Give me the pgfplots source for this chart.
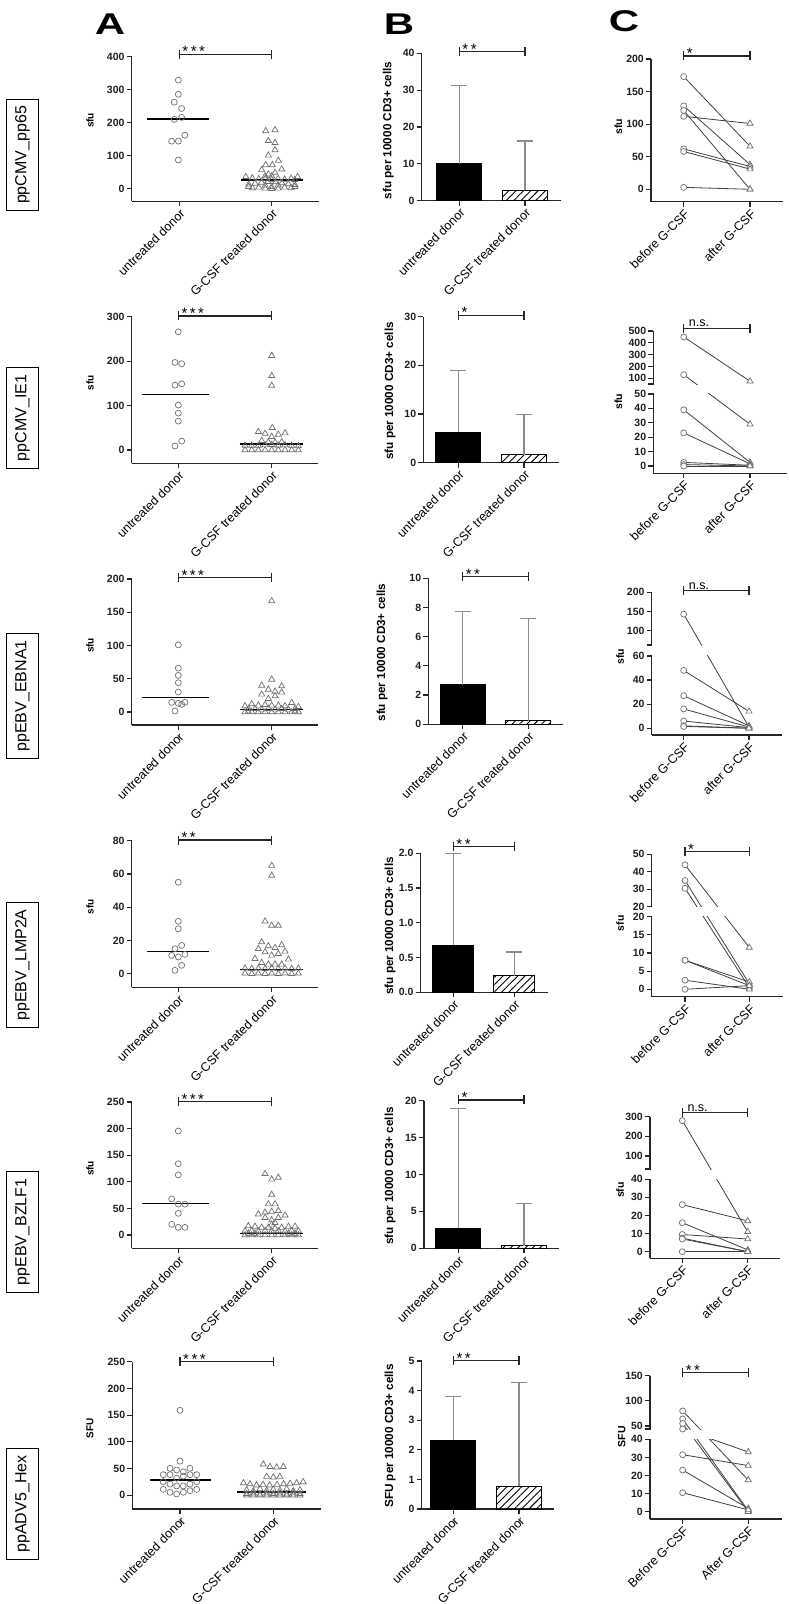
\documentclass[border=0pt]{standalone}
\usepackage{pgfplots}
\usepackage{pgfplotstable}
\pgfplotsset{compat=1.18}
\usepackage{fontspec}
\setmainfont{Liberation Sans}
\usetikzlibrary{patterns.meta}
\definecolor{axc}{HTML}{262626}
\definecolor{mk}{HTML}{6E6E6E}
\definecolor{eb}{HTML}{8C8C8C}
\definecolor{ln}{HTML}{404040}
\pgfplotsset{
  gp/.style={
    scale only axis, anchor=south west, clip=false,
    axis x line=bottom, axis y line=left,
    axis line style={-, line width=1.4pt, draw=axc},
    tick style={line width=1.2pt, axc},
    tick align=outside, major tick length=5pt,
    xtick={0,1}, scaled y ticks=false,
    /pgf/number format/assume math mode=true,
    yticklabel style={font=\fontsize{10.5}{11}\selectfont\bfseries, text=black!88, inner sep=2pt},
    xticklabel style={font=\fontsize{12.5}{13}\selectfont, rotate=45, anchor=north east, inner sep=1pt},
  },
  scU/.style={only marks, mark=o, mark size=3pt, mark options={draw=mk, line width=0.7pt}},
  scG/.style={only marks, mark=triangle, mark size=3.5pt, mark options={draw=mk, line width=0.7pt}},
  med/.style={black, line width=1.5pt, mark=none},
  sig/.style={axc, line width=1.3pt, mark=|, mark size=4.5pt, mark options={line width=1.3pt}},
  cl/.style={ln, line width=0.8pt, mark=none},
  cO/.style={only marks, mark=*, mark size=3pt, mark options={draw=mk, fill=white, line width=0.7pt}},
  cT/.style={only marks, mark=triangle*, mark size=3.5pt, mark options={draw=mk, fill=white, line width=0.7pt}},
  errs/.style={error bars/y dir=plus, error bars/y explicit,
    error bars/error bar style={eb, line width=1.1pt},
    error bars/error mark options={rotate=90, eb, line width=1.1pt, mark size=8pt}},
  bk/.style={ybar, bar shift=0pt, bar width=45pt, fill=black, draw=black, line width=1pt, errs},
  ht/.style={ybar, bar shift=0pt, bar width=45pt, draw=black, line width=1pt,
    pattern={Lines[angle=45,distance=5.2pt,line width=0.9pt]}, pattern color=black, errs},
}
\tikzset{
  st/.style={anchor=base west, font=\fontsize{15}{15}\selectfont, inner sep=0pt, xshift=3pt, yshift=-2.5pt},
  ns/.style={anchor=base west, font=\fontsize{12.5}{12}\selectfont, inner sep=0pt, xshift=5pt, yshift=1.5pt},
  rl/.style={draw=black, line width=0.9pt, rotate=90, font=\fontsize{16}{16}\selectfont, inner xsep=7pt, inner ysep=9pt},
  yl/.style={rotate=90, font=\fontsize{10}{10}\selectfont\bfseries, inner sep=0pt},
  ylb/.style={rotate=90, font=\fontsize{11.7}{12}\selectfont\bfseries, inner sep=0pt},
  ylc/.style={rotate=90, font=\fontsize{10.5}{10}\selectfont\bfseries, inner sep=0pt},
}
\newcommand{\pr}[3][]{\addplot[cl,#1] coordinates {(0,#2)(1,#3)};}
\newcommand{\sA}{*}
\newcommand{\sB}{*\kern2.5pt*}
\newcommand{\sC}{*\kern2.5pt*\kern2.5pt*}
\newcommand{\BIG}[1]{\scalebox{1.4}[1]{\fontsize{30}{30}\selectfont\bfseries #1}}
\begin{document}
\begin{tikzpicture}[x=1pt,y=1pt]
\useasboundingbox (0,0) rectangle (789,1604);
% column letters
\node[anchor=base, inner sep=0pt] at (110,1569) {\BIG{A}};
\node[anchor=base, inner sep=0pt] at (399,1569) {\BIG{B}};
\node[anchor=base, inner sep=0pt] at (624,1572.5) {\BIG{C}};
% row labels
\node[rl] at (22.5,1449) {ppCMV\_pp65};
\node[rl] at (22.5,1186) {ppCMV\_IE1};
\node[rl] at (22.5,908) {ppEBV\_EBNA1};
\node[rl] at (22.5,639) {ppEBV\_LMP2A};
\node[rl] at (22.5,372) {ppEBV\_BZLF1};
\node[rl] at (22.5,100) {ppADV5\_Hex};
% y labels
\node[yl] at (90,1483.5) {sfu};
\node[yl] at (90,1221) {sfu};
\node[yl] at (90,958.5) {sfu};
\node[yl] at (90,697) {sfu};
\node[yl] at (90,435.5) {sfu};
\node[yl] at (90,175.5) {SFU};
\node[ylb] at (388.3,1473.5) {sfu per 10000 CD3+ cells};
\node[ylb] at (390,1213) {sfu per 10000 CD3+ cells};
\node[ylb] at (382,951.3) {sfu per 10000 CD3+ cells};
\node[ylb] at (390,678) {sfu per 10000 CD3+ cells};
\node[ylb] at (390,428) {sfu per 10000 CD3+ cells};
\node[ylb] at (390,168) {SFU per 10000 CD3+ cells};
\node[ylc] at (618.3,1477.3) {sfu};
\node[ylc] at (618.3,1202.3) {sfu};
\node[ylc] at (620,947.3) {sfu};
\node[ylc] at (620,680.7) {sfu};
\node[ylc] at (620,414) {sfu};
\node[ylc] at (621.7,167.3) {SFU};

%================ ROW 1 ================
\begin{axis}[gp, at={(131.7pt,1402.7pt)}, width=187.6pt, height=144.6pt,
  xmin=-0.515, xmax=1.515, ymin=-38.2, ymax=400, ytick={0,100,200,300,400},
  xticklabels={untreated donor, G-CSF treated donor}]
\addplot[scU] coordinates {(-0.01,329)(-0.01,286)(-0.054,262)(0.025,243)(0.025,216)(-0.054,210)(0.06,162)(-0.083,144)(-0.01,144)(-0.01,87)};
\addplot[scG] coordinates {(0.935,175)(1.036,178)(0.964,145)(1.036,139)(1.036,117)(0.964,101)(1.072,85)(0.935,72)(1.007,72)(0.892,57)(1.108,59)(0.964,44)(1.036,49)(0.928,38)(1,38)
(0.72,36)(0.79,32)(0.86,30)(0.93,31)(1,28)(1.07,30)(1.14,28)(1.21,31)(1.28,36)(1.25,27)
(0.75,13)(0.82,16)(0.89,19)(0.96,21)(1.04,20)(1.11,17)(1.18,14)(1.25,12)(0.93,10)(1.07,10)
(0.79,2)(0.86,4)(0.93,1)(1,0)(1.07,1)(1.14,4)(1.21,2)(1.25,6)(0.75,6)(1,6)};
\addplot[med] coordinates {(-0.353,211)(0.325,211)};
\addplot[med] coordinates {(0.665,26)(1.342,26)};
\addplot[sig] coordinates {(0,407)(1,407)};
\node[st] at (axis cs:0,407) {\sC};
\end{axis}

\begin{axis}[gp, at={(421.7pt,1403.3pt)}, width=139pt, height=147.4pt,
  xmin=-0.572, xmax=1.544, ymin=0, ymax=40, ytick={0,10,20,30,40},
  xticklabels={untreated donor, G-CSF treated donor}]
\addplot[bk] coordinates {(0,10) +- (0,21.3)};
\addplot[ht] coordinates {(1,2.8) +- (0,13.4)};
\addplot[sig] coordinates {(0,40.4)(1,40.4)};
\node[st] at (axis cs:0,40.4) {\sB};
\end{axis}

\begin{axis}[gp, at={(651pt,1402.3pt)}, width=132.3pt, height=142.7pt,
  xmin=-0.493, xmax=1.502, ymin=-19, ymax=200, ytick={0,50,100,150,200},
  xticklabels={before G-CSF, after G-CSF}]
\pr{173}{66}\pr{128}{38}\pr{121}{0}\pr{112}{101}\pr{62}{35}\pr{58}{31}\pr{3}{0}
\addplot[cO] coordinates {(0,173)(0,128)(0,121)(0,112)(0,62)(0,58)(0,3)};
\addplot[cT] coordinates {(1,66)(1,38)(1,0)(1,101)(1,35)(1,31)(1,0)};
\addplot[sig] coordinates {(0,204.6)(1,204.6)};
\node[st] at (axis cs:0,204.6) {\sA};
\end{axis}

%================ ROW 2 ================
\begin{axis}[gp, at={(131.7pt,1140.7pt)}, width=186.6pt, height=146.6pt,
  xmin=-0.499, xmax=1.499, ymin=-29.9, ymax=300, ytick={0,100,200,300},
  xticklabels={untreated donor, G-CSF treated donor}]
\addplot[scU] coordinates {(0,266)(-0.036,197)(0.036,194)(-0.036,146)(0.036,149)(0,101)(0,83)(0,65)(0.036,20)(-0.036,9)};
\addplot[scG] coordinates {(1,212)(1,167)(1,145)(1.007,50)(0.857,41)(0.929,37)(1,30)(1.071,35)(1.143,38)(0.893,21)(0.964,18)(1.036,17)(1.107,18)
(0.714,10)(0.786,10)(0.857,10)(0.929,11)(1,12)(1.071,10)(1.143,11)(1.214,10)(1.286,9)
(0.714,0)(0.786,0)(0.857,0)(0.929,0)(1,0)(1.071,0)(1.143,0)(1.214,0)(1.286,0)};
\addplot[med] coordinates {(-0.39,125)(0.33,125)};
\addplot[med] coordinates {(0.66,13)(1.34,13)};
\addplot[sig] coordinates {(0,301.6)(1,301.6)};
\node[st] at (axis cs:0,301.6) {\sC};
\end{axis}

\begin{axis}[gp, at={(423.3pt,1141.3pt)}, width=136pt, height=146pt,
  xmin=-0.533, xmax=1.537, ymin=0, ymax=30, ytick={0,10,20,30},
  xticklabels={untreated donor, G-CSF treated donor}]
\addplot[bk] coordinates {(0,6.3) +- (0,12.7)};
\addplot[ht] coordinates {(1,1.6) +- (0,8.3)};
\addplot[sig] coordinates {(0,30.3)(1,30.3)};
\node[st] at (axis cs:0,30.3) {\sA};
\end{axis}

\begin{axis}[gp, at={(653.3pt,1130.7pt)}, width=133.7pt, height=142.3pt,
  xmin=-0.459, xmax=1.558, ymin=-5.07, ymax=93.74,
  ytick={0,10,20,30,40,50,60.9,69.11,77.32,85.53,93.74},
  yticklabels={0,10,20,30,40,50,100,200,300,400,500},
  extra y ticks={56.9}, extra y tick labels={},
  xticklabels={before G-CSF, after G-CSF},
  tr/.style={y filter/.expression={y<=50 ? y : 60.9+(y-100)*0.0821}}]
\pr[tr]{450}{75}\pr[tr]{130}{29}\pr[tr]{39}{2.5}\pr[tr]{23}{1.5}\pr[tr]{2.5}{0.5}\pr[tr]{1}{0}\pr[tr]{0}{0}
\fill[white] (axis cs:-0.52,50.5) rectangle (axis cs:1.558,56.4);
\addplot[cO,tr] coordinates {(0,450)(0,130)(0,39)(0,23)(0,2.5)(0,1)(0,0)};
\addplot[cT,tr] coordinates {(1,75)(1,29)(1,2.5)(1,1.5)(1,0.5)(1,0)(1,0)};
\addplot[sig] coordinates {(0,95.6)(1,95.6)};
\node[ns] at (axis cs:0,95.6) {n.s.};
\end{axis}

%================ ROW 3 ================
\begin{axis}[gp, at={(131.7pt,879pt)}, width=186.6pt, height=146pt,
  xmin=-0.499, xmax=1.499, ymin=-19.5, ymax=200, ytick={0,50,100,150,200},
  xticklabels={untreated donor, G-CSF treated donor}]
\addplot[scU] coordinates {(0,101)(0,66)(0,55)(0,44)(0,30)(-0.071,14.5)(0,13)(0.036,11.5)(0.071,14.5)(-0.036,1.5)};
\addplot[scG] coordinates {(1,167)(1,49)(0.893,40)(1.107,39)(0.964,34)(1.036,31)(0.893,26.5)(1.107,29.5)(1.036,24)(0.964,20)
(0.714,9)(0.786,12)(0.857,10)(0.929,11)(1,10)(1.071,10)(1.143,9)(1.214,14)(1.286,8)
(0.75,5)(0.821,5)(0.893,4)(0.964,5)(1.036,4)(1.107,5)(1.179,4)(1.25,5)
(0.714,0)(0.786,0)(0.857,0)(0.929,0)(1,0)(1.071,0)(1.143,0)(1.214,0)(1.286,0)(0.75,1)(1.25,1)};
\addplot[med] coordinates {(-0.39,22)(0.33,22)};
\addplot[med] coordinates {(0.66,4)(1.34,4)};
\addplot[sig] coordinates {(0,202)(1,202)};
\node[st] at (axis cs:0,202) {\sC};
\end{axis}

\begin{axis}[gp, at={(428.3pt,879.7pt)}, width=135pt, height=146pt,
  xmin=-0.524, xmax=1.534, ymin=0, ymax=10, ytick={0,2,4,6,8,10},
  xticklabels={untreated donor, G-CSF treated donor}]
\addplot[bk] coordinates {(0,2.7) +- (0,5.05)};
\addplot[ht] coordinates {(1,0.25) +- (0,7.0)};
\addplot[sig] coordinates {(0,10.1)(1,10.1)};
\node[st] at (axis cs:0,10.1) {\sB};
\end{axis}

\begin{axis}[gp, at={(651.7pt,869pt)}, width=130pt, height=142.7pt,
  xmin=-0.49, xmax=1.501, ymin=-5.6, ymax=112.87,
  ytick={0,20,40,60,81.0,96.94,112.87},
  yticklabels={0,20,40,60,100,150,200},
  extra y ticks={69.1}, extra y tick labels={},
  xticklabels={before G-CSF, after G-CSF},
  tr/.style={y filter/.expression={y<=60 ? y : 81.0+(y-100)*0.3187}}]
\pr[tr]{143}{1}\pr[tr]{48}{14}\pr[tr]{27}{2}\pr[tr]{16}{1}\pr[tr]{6}{0.5}\pr[tr]{2}{0}\pr[tr]{1.5}{0}
\fill[white] (axis cs:-0.55,60.6) rectangle (axis cs:1.501,68.5);
\addplot[cO,tr] coordinates {(0,143)(0,48)(0,27)(0,16)(0,6)(0,2)(0,1.5)};
\addplot[cT,tr] coordinates {(1,1)(1,14)(1,2)(1,1)(1,0.5)(1,0)(1,0)};
\addplot[sig] coordinates {(0,114.2)(1,114.2)};
\node[ns] at (axis cs:0,114.2) {n.s.};
\end{axis}

%================ ROW 4 ================
\begin{axis}[gp, at={(131.7pt,616.7pt)}, width=186.6pt, height=146.6pt,
  xmin=-0.499, xmax=1.499, ymin=-8.2, ymax=80, ytick={0,20,40,60,80},
  xticklabels={untreated donor, G-CSF treated donor}]
\addplot[scU] coordinates {(0,55)(0,31.5)(0,27)(-0.036,15)(0.036,17)(-0.071,11)(0,10)(0.071,11.6)(0.036,5)(-0.036,2)};
\addplot[scG] coordinates {(1,65)(1,59)(0.929,31.5)(1,29)(1.071,29)(0.893,19)(0.964,16.6)(1.036,15.6)(1.107,17.2)(0.857,15)(0.929,13)(1,11)(1.071,12)(1.143,13.4)(0.821,9)(1.179,8.6)(0.893,6.6)(0.964,5.6)(1.036,5.6)(1.107,5.6)
(0.714,3.2)(0.786,3)(0.857,3.2)(0.929,3)(1,3.2)(1.071,3)(1.143,3.2)(1.214,3)(1.286,3.2)
(0.714,0.2)(0.786,0)(0.857,0.2)(0.929,0)(1,0.2)(1.071,0)(1.143,0.2)(1.214,0)(1.286,0.2)};
\addplot[med] coordinates {(-0.34,13.3)(0.33,13.3)};
\addplot[med] coordinates {(0.66,2.5)(1.34,2.5)};
\addplot[sig] coordinates {(0,80.4)(1,80.4)};
\node[st] at (axis cs:0,80.4) {\sB};
\end{axis}

\begin{axis}[gp, at={(420.7pt,611.7pt)}, width=127.6pt, height=139pt,
  xmin=-0.534, xmax=1.558, ymin=0, ymax=2, ytick={0,0.5,1,1.5,2},
  yticklabels={0.0,0.5,1.0,1.5,2.0},
  xticklabels={untreated donor, G-CSF treated donor}]
\addplot[bk, bar width=41pt] coordinates {(0,0.68) +- (0,1.32)};
\addplot[ht, bar width=41pt] coordinates {(1,0.235) +- (0,0.345)};
\addplot[sig] coordinates {(0,2.095)(1,2.095)};
\node[st] at (axis cs:0,2.095) {\sB};
\end{axis}

\begin{axis}[gp, at={(651.7pt,607.3pt)}, width=131pt, height=142.4pt,
  xmin=-0.518, xmax=1.519, ymin=-2.04, ymax=37.19,
  ytick={0,5,10,15,20,22.755,27.567,32.38,37.19},
  yticklabels={0,5,10,15,20,20,30,40,50},
  xticklabels={before G-CSF, after G-CSF},
  tr/.style={y filter/.expression={y<=20 ? y : 22.755+(y-20)*0.4812}}]
\pr[tr]{44}{11.5}\pr[tr]{35}{1.5}\pr[tr]{30.5}{0.5}\pr[tr]{8}{2}\pr[tr]{8}{1}\pr[tr]{2.5}{0}\pr[tr]{0}{1}
\fill[white] (axis cs:-0.58,20.2) rectangle (axis cs:1.519,22.55);
\addplot[cO,tr] coordinates {(0,44)(0,35)(0,30.5)(0,8)(0,8)(0,2.5)(0,0)};
\addplot[cT,tr] coordinates {(1,11.5)(1,1.5)(1,0.5)(1,2)(1,1)(1,0)(1,1)};
\addplot[sig] coordinates {(0,37.9)(1,37.9)};
\node[st] at (axis cs:0,37.9) {\sA};
\end{axis}

%================ ROW 5 ================
\begin{axis}[gp, at={(131.7pt,355.7pt)}, width=186.6pt, height=146.3pt,
  xmin=-0.499, xmax=1.499, ymin=-25, ymax=250, ytick={0,50,100,150,200,250},
  xticklabels={untreated donor, G-CSF treated donor}]
\addplot[scU] coordinates {(0,195.5)(0,134)(0,113)(-0.071,67.7)(0,58)(0.071,58)(0,40.7)(-0.071,20)(0,14.4)(0.071,14.4)};
\addplot[scG] coordinates {(0.929,115)(1,104.6)(1.071,108)(1,76)(0.964,58)(1.036,58)(0.857,39)(0.929,42.6)(1,44)(1.071,45.7)(1.143,37)(0.929,32.6)(1,28)(1.071,32.6)(1,20)(1.036,23)
(0.75,17)(0.821,16)(0.893,14)(0.964,14)(1.036,12)(1.107,14)(1.179,16)(1.25,16)
(0.714,7.5)(0.786,8)(0.857,7)(0.929,8)(1,7.5)(1.071,8)(1.143,7)(1.214,8)(1.286,7.5)
(0.714,0)(0.786,0)(0.857,0)(0.929,0)(1,0)(1.071,0)(1.143,0)(1.214,0)(1.286,0)
(0.75,3)(0.821,3)(1.179,3)(1.25,3)};
\addplot[med] coordinates {(-0.39,59)(0.33,59)};
\addplot[med] coordinates {(0.66,3)(1.34,3)};
\addplot[sig] coordinates {(0,250.6)(1,250.6)};
\node[st] at (axis cs:0,250.6) {\sC};
\end{axis}

\begin{axis}[gp, at={(424pt,355.7pt)}, width=135.3pt, height=147.6pt,
  xmin=-0.522, xmax=1.537, ymin=0, ymax=20, ytick={0,5,10,15,20},
  xticklabels={untreated donor, G-CSF treated donor}]
\addplot[bk] coordinates {(0,2.7) +- (0,16.2)};
\addplot[ht] coordinates {(1,0.35) +- (0,5.75)};
\addplot[sig] coordinates {(0,20.1)(1,20.1)};
\node[st] at (axis cs:0,20.1) {\sA};
\end{axis}

\begin{axis}[gp, at={(650pt,345.7pt)}, width=130pt, height=141.6pt,
  xmin=-0.494, xmax=1.494, ymin=-3.65, ymax=74.58,
  ytick={0,10,20,30,40,52.87,63.73,74.58},
  yticklabels={0,10,20,30,40,100,200,300},
  extra y ticks={45.7}, extra y tick labels={},
  xticklabels={before G-CSF, after G-CSF},
  tr/.style={y filter/.expression={y<=40 ? y : 52.87+(y-100)*0.10856}}]
\pr[tr]{280}{11}\pr[tr]{26}{17}\pr[tr]{16}{1}\pr[tr]{9.5}{7}\pr[tr]{7.5}{0}\pr[tr]{7}{0}\pr[tr]{0}{0}
\fill[white] (axis cs:-0.55,40.4) rectangle (axis cs:1.494,45.3);
\addplot[cO,tr] coordinates {(0,280)(0,26)(0,16)(0,9.5)(0,7.5)(0,7)(0,0)};
\addplot[cT,tr] coordinates {(1,11)(1,17)(1,1)(1,7)(1,0)(1,0)(1,0)};
\addplot[sig] coordinates {(0,76.8)(1,76.8)};
\node[ns] at (axis cs:0,76.8) {n.s.};
\end{axis}

%================ ROW 6 ================
\begin{axis}[gp, at={(132.3pt,95pt)}, width=188.7pt, height=147.3pt,
  xmin=-0.511, xmax=1.511, ymin=-25.6, ymax=250, ytick={0,50,100,150,200,250},
  xticklabels={untreated donor, G-CSF treated donor}]
\addplot[scU] coordinates {(0,159)(0,64)(-0.107,50.5)(-0.036,47.4)(0.036,44)(0.107,50.5)(-0.179,38.6)(-0.107,38.6)(0.036,36)(0.107,38.6)(0.179,38.6)(-0.036,32)(-0.179,25.6)(-0.107,21)(-0.036,17.5)(0.036,17.5)(0.107,21)(0.179,25.6)(-0.179,11)(-0.107,5.6)(-0.036,2.5)(0.036,5.6)(0.107,8.7)(0.179,11)};
\addplot[scG] coordinates {(0.893,58)(0.964,53.6)(1.036,52.4)(1.107,53.6)(0.929,35)(1,33.7)(1.071,35)
(0.68,23)(0.75,21)(0.82,19)(0.89,20)(0.96,19)(1.04,20)(1.11,21)(1.18,22)(1.25,23)(1.32,25)
(0.714,10)(0.786,8)(0.857,12)(0.929,9)(1,11)(1.071,9)(1.143,12)(1.214,8)(1.286,10)
(0.714,3)(0.786,4)(0.857,2)(0.929,4)(1,3)(1.071,4)(1.143,2)(1.214,4)(1.286,3)
(0.714,0)(0.786,0)(0.857,0)(0.929,0)(1,0)(1.071,0)(1.143,0)(1.214,0)(1.286,0)};
\addplot[med] coordinates {(-0.32,29)(0.33,29)};
\addplot[med] coordinates {(0.61,6)(1.35,6)};
\addplot[sig] coordinates {(0,250)(1,250)};
\node[st] at (axis cs:0,250) {\sC};
\end{axis}

\begin{axis}[gp, at={(421.7pt,95pt)}, width=132.3pt, height=148pt,
  xmin=-0.481, xmax=1.533, ymin=0, ymax=5, ytick={0,1,2,3,4,5},
  xticklabels={untreated donor, G-CSF treated donor}]
\addplot[bk] coordinates {(0,2.32) +- (0,1.47)};
\addplot[ht] coordinates {(1,0.77) +- (0,3.51)};
\addplot[sig] coordinates {(0,5.01)(1,5.01)};
\node[st] at (axis cs:0,5.01) {\sB};
\end{axis}

\begin{axis}[gp, at={(650pt,85pt)}, width=131.7pt, height=143.3pt,
  xmin=-0.498, xmax=1.51, ymin=-4.03, ymax=75.14,
  ytick={0,10,20,30,40,47.35,61.25,75.14},
  yticklabels={0,10,20,30,40,50,100,150},
  extra y ticks={45.7}, extra y tick labels={},
  xticklabels={Before G-CSF, After G-CSF},
  tr/.style={y filter/.expression={y<=40 ? y : 47.35+(y-50)*0.2779}}]
\pr[tr]{80}{17.5}\pr[tr]{64}{0.5}\pr[tr]{55}{0}\pr[tr]{44}{33}\pr[tr]{31.5}{25.5}\pr[tr]{23}{1.8}\pr[tr]{10.5}{1}
\fill[white] (axis cs:-0.56,40.4) rectangle (axis cs:1.51,45.3);
\addplot[cO,tr] coordinates {(0,80)(0,64)(0,55)(0,44)(0,31.5)(0,23)(0,10.5)};
\addplot[cT,tr] coordinates {(1,17.5)(1,0.5)(1,0)(1,33)(1,25.5)(1,1.8)(1,1)};
\addplot[sig] coordinates {(0,76.8)(1,76.8)};
\node[st] at (axis cs:0,76.8) {\sB};
\end{axis}
\end{tikzpicture}
\end{document}
